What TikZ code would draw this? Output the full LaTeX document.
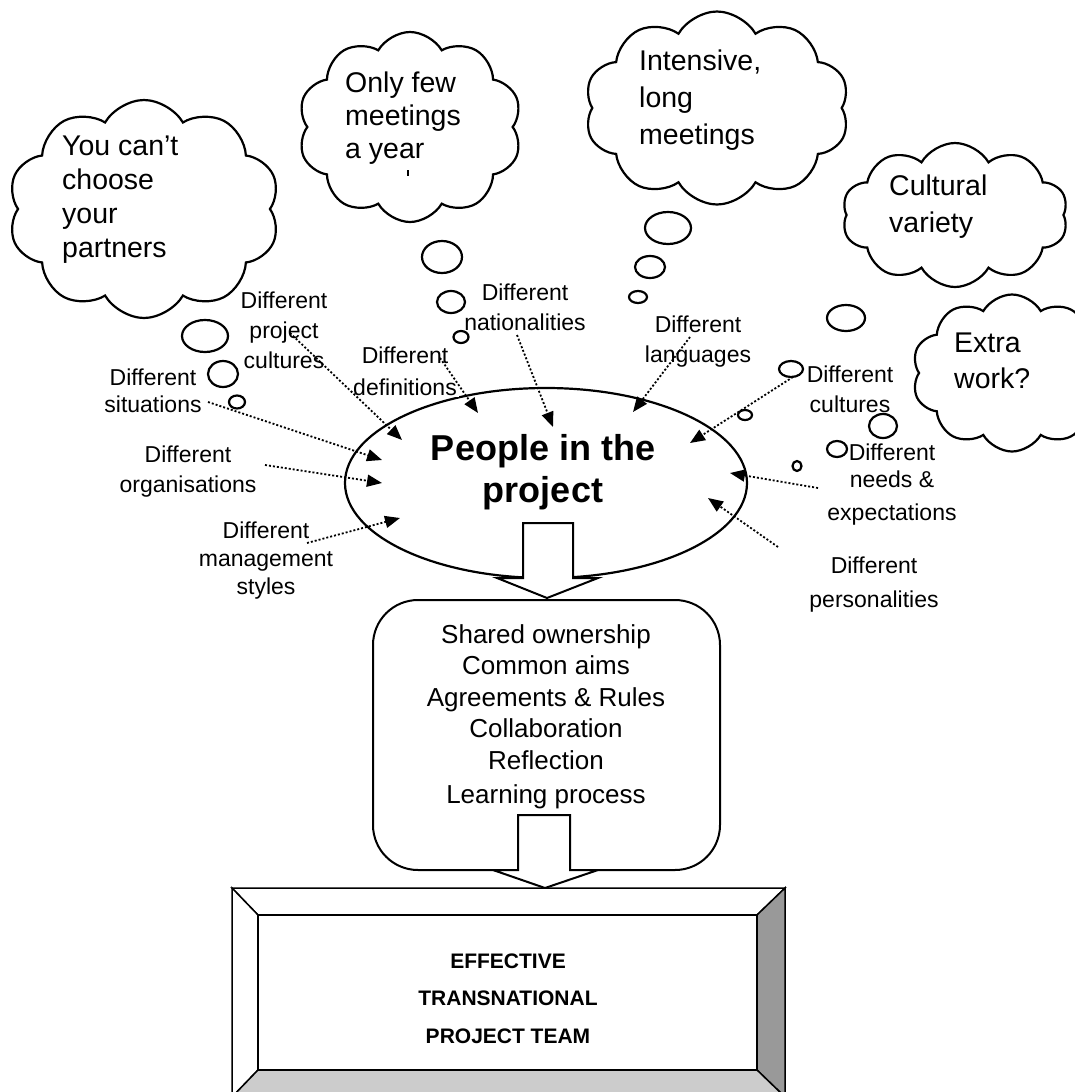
\documentclass[tikz,border=0pt]{standalone}
\usepackage{fontspec}
\setmainfont{Liberation Sans}
\usetikzlibrary{shapes.geometric,shapes.symbols,arrows.meta}
\definecolor{bevdark}{HTML}{999999}
\definecolor{bevlight}{HTML}{CCCCCC}
\begin{document}
\begin{tikzpicture}[x=1pt,y=-1pt,
  cloudbox/.style={cloud, cloud puffs=10, cloud puff arc=120, cloud ignores aspect,
    draw, line width=2.2pt, fill=white, inner sep=0pt},
  cloudtxt/.style={font=\fontsize{28.5}{#1}\selectfont, align=left, anchor=base west, inner sep=0pt},
  bubble/.style={ellipse, draw, line width=2.2pt, fill=white, inner sep=0pt},
  lbl/.style={font=\fontsize{23}{#1}\selectfont, align=center, anchor=base, inner sep=0pt},
  infl/.style={line width=1.8pt, dash pattern=on 2pt off 2pt,
    -{Triangle[length=15pt,width=12pt]}},
  blockarrow/.style={draw, line width=2pt, fill=white, line join=miter},
  bevel/.style={draw, line width=1.5pt}
]
\useasboundingbox (0,0) rectangle (1075,1092);
\clip (0,0) rectangle (1075,1092);

% ---------- thought clouds (text nodes are anchored at their last baseline) ----------
\node[cloudbox, minimum width=272, minimum height=218] (c1) at (144,209) {};
\node[cloudbox, minimum width=224, minimum height=190] (c2) at (410,127) {};
\node[cloudbox, minimum width=265, minimum height=193] (c3) at (717,108) {};
\node[cloudbox, minimum width=226, minimum height=144] (c4) at (955,215) {};
\node[cloudbox, minimum width=200, minimum height=157] (c5) at (1012,373) {};

\node[cloudtxt=34] (t1) at (62,257) {You can’t\\choose\\your\\partners};
\node[cloudtxt=33] (t2) at (345,158) {Only few\\meetings\\a year};
\draw[line width=1.5pt] (408,170) -- (408,176);
\node[cloudtxt=37] (t3) at (639,144) {Intensive,\\long\\meetings};
\node[cloudtxt=37] (t4) at (889,232) {Cultural\\variety};
\node[cloudtxt=36] (t5) at (954,388) {Extra\\work?};

% ---------- thought bubbles ----------
\node[bubble, minimum width=46, minimum height=32] (b11) at (205,336) {};
\node[bubble, minimum width=30, minimum height=26] (b12) at (223,374) {};
\node[bubble, minimum width=16, minimum height=13] (b13) at (237,402) {};

\node[bubble, minimum width=40, minimum height=32] (b21) at (442,257) {};
\node[bubble, minimum width=28, minimum height=22] (b22) at (451,302) {};
\node[bubble, minimum width=15, minimum height=12] (b23) at (461,337) {};

\node[bubble, minimum width=46, minimum height=32] (b31) at (668,228) {};
\node[bubble, minimum width=30, minimum height=22] (b32) at (650,267) {};
\node[bubble, minimum width=18, minimum height=12] (b33) at (638,297) {};

\node[bubble, minimum width=38, minimum height=26] (b41) at (846,318) {};
\node[bubble, minimum width=24, minimum height=16] (b42) at (791,369) {};
\node[bubble, minimum width=14, minimum height=10] (b43) at (745,415) {};

\node[bubble, minimum width=28, minimum height=24] (b51) at (883,426) {};
\node[bubble, minimum width=20, minimum height=16] (b52) at (837,449) {};
\node[bubble, minimum width=9, minimum height=10] (b53) at (797,466) {};

% ---------- central ellipse ----------
\node[ellipse, draw, line width=2.2pt, minimum width=402, minimum height=190, inner sep=0pt] (people) at (546,483) {};
\node[font=\fontsize{36}{42}\selectfont\bfseries, align=center, anchor=base, inner sep=0pt] (ptxt) at (543,502) {People in the\\project};

% ---------- influence labels ----------
\node[lbl=30] (lproj) at (284,368) {Different\\project\\cultures};
\node[lbl=27] (lsit)  at (153,412) {Different\\situations};
\node[lbl=30] (lorg)  at (188,492) {Different\\organisations};
\node[lbl=28] (lman)  at (266,594) {Different\\management\\styles};
\node[lbl=32, fill=white, inner sep=2pt] (ldef) at (405,395) {Different\\definitions};
\node[lbl=30] (lnat)  at (525,330) {Different\\nationalities};
\node[lbl=30] (llang) at (698,362) {Different\\languages};
\node[lbl=30] (lcul)  at (850,412) {Different\\cultures};
\node[lbl=27] (lneed) at (892,520) {Different\\needs \&\\[6pt]expectations};
\node[lbl=34] (lpers) at (874,607) {Different\\personalities};

% ---------- influence arrows ----------
\coordinate (sproj) at (290,333);  \coordinate (eproj) at (402,440);
\coordinate (ssit)  at (208,402);  \coordinate (esit)  at (382,460);
\coordinate (sorg)  at (265,465);  \coordinate (eorg)  at (382,483);
\coordinate (sman)  at (307,543);  \coordinate (eman)  at (400,518);
\coordinate (sdef)  at (440,358);  \coordinate (edef)  at (478,413);
\coordinate (snat)  at (517,335);  \coordinate (enat)  at (553,427);
\coordinate (slang) at (690,337);  \coordinate (elang) at (633,412);
\coordinate (scul)  at (793,377);  \coordinate (ecul)  at (690,443);
\coordinate (sneed) at (818,488);  \coordinate (eneed) at (730,473);
\coordinate (spers) at (778,547);  \coordinate (epers) at (708,498);

\draw[infl] (sproj) -- (eproj);
\draw[infl] (ssit)  -- (esit);
\draw[infl] (sorg)  -- (eorg);
\draw[infl] (sman)  -- (eman);
\draw[infl] (sdef)  -- (edef);
\draw[infl] (snat)  -- (enat);
\draw[infl] (slang) -- (elang);
\draw[infl] (scul)  -- (ecul);
\draw[infl] (sneed) -- (eneed);
\draw[infl] (spers) -- (epers);

% ---------- team-building box ----------
\node[draw, line width=2pt, rounded corners=45pt, minimum width=347, minimum height=270, inner sep=0pt] (tools) at (546.5,735) {};
\node[font=\fontsize{26}{31.5}\selectfont, align=center, anchor=base, inner sep=0pt] (ttxt) at (546,803.5)
  {Shared ownership\\Common aims\\Agreements \& Rules\\Collaboration\\Reflection\\[3pt]Learning process};

% ---------- block arrows ----------
\draw[blockarrow] (523,523) -- (573,523) -- (573,578) -- (598,578) -- (547,598)
  -- (497,578) -- (523,578) -- cycle;
\draw[blockarrow] (518,815) -- (570,815) -- (570,870) -- (598,870) -- (545,888)
  -- (493,870) -- (518,870) -- cycle;

% ---------- bevelled result box ----------
\fill[white] (232,888) rectangle (785,1097);
\filldraw[bevel, fill=white]     (232,888) -- (785,888) -- (757,915) -- (258,915) -- cycle;
\filldraw[bevel, fill=white]     (232,888) -- (258,915) -- (258,1070) -- (232,1097) -- cycle;
\filldraw[bevel, fill=bevdark]   (785,888) -- (785,1097) -- (757,1070) -- (757,915) -- cycle;
\filldraw[bevel, fill=bevlight]  (232,1097) -- (785,1097) -- (757,1070) -- (258,1070) -- cycle;
\node[draw, line width=1.5pt, minimum width=499, minimum height=155, inner sep=0pt] (team) at (507.5,992.5) {};
\node[font=\fontsize{21}{37.5}\selectfont\bfseries, align=center, anchor=base, inner sep=0pt] (teamtxt) at (508,1043)
  {EFFECTIVE\\TRANSNATIONAL\\PROJECT TEAM};
\end{tikzpicture}
\end{document}
